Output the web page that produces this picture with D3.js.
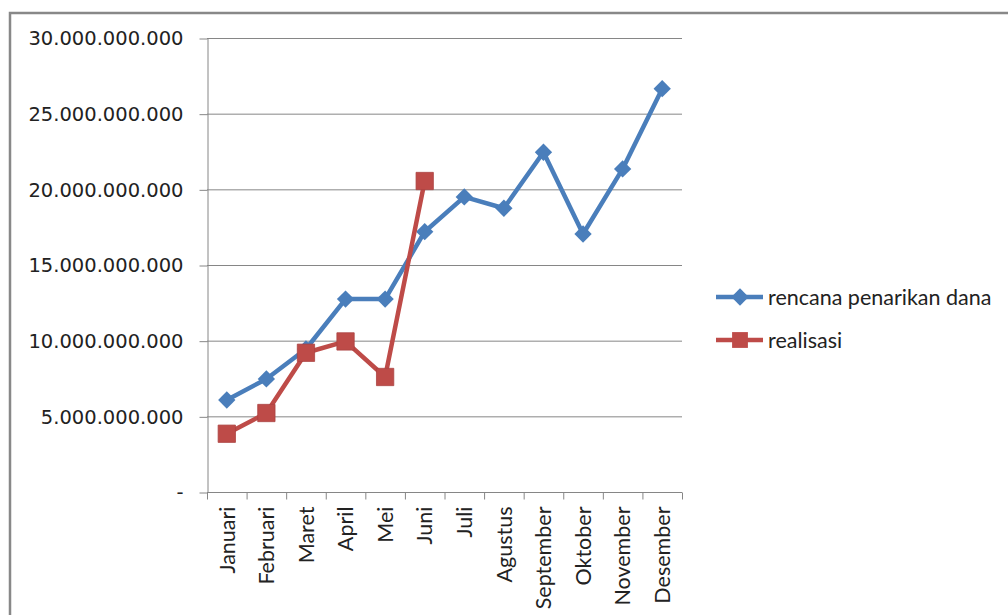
<!DOCTYPE html>
<html>
<head>
<meta charset="utf-8">
<script src="https://cdn.jsdelivr.net/npm/d3@7"></script>
<style>
  body { margin: 0; background: #fff; }
  svg { display: block; }
</style>
</head>
<body>
<svg id="chart" width="1008" height="615"></svg>
<script>
// Data
const months = ['Januari', 'Februari', 'Maret', 'April', 'Mei', 'Juni', 'Juli',
                'Agustus', 'September', 'Oktober', 'November', 'Desember'];
const rencana = [6.08e9, 7.47e9, 9.45e9, 12.75e9, 12.75e9, 17.2e9, 19.5e9,
                 18.75e9, 22.45e9, 17.05e9, 21.35e9, 26.65e9];
const realisasi = [3.85e9, 5.22e9, 9.2e9, 9.95e9, 7.6e9, 20.55e9];
const yTicks = [0, 5e9, 10e9, 15e9, 20e9, 25e9, 30e9];
const seriesNames = ['rencana penarikan dana', 'realisasi'];

const blue = '#4a7ebb';
const red = '#be4b48';
const axisGrey = '#868686';

const svg = d3.select('#chart');

// Outer chart frame (only top and left edges are visible in the picture)
svg.append('path')
    .attr('d', 'M10,615 L10,13 L1008,13')
    .attr('fill', 'none')
    .attr('stroke', '#888')
    .attr('stroke-width', 2.5);

const plot = { left: 207, right: 682, top: 38, bottom: 492 };

const x = d3.scaleBand()
    .domain(months)
    .range([plot.left, plot.right]);

const y = d3.scaleLinear()
    .domain([0, 30e9])
    .range([plot.bottom, plot.top]);

// Thousands with dots, zero as a dash
const fmt = v => v === 0 ? '-' : d3.format(',')(v).replace(/,/g, '.');

// Gridlines
svg.append('g')
    .selectAll('line')
    .data(yTicks.filter(d => d > 0))
    .join('line')
    .attr('x1', plot.left)
    .attr('x2', plot.right)
    .attr('y1', d => y(d) + 0.5)
    .attr('y2', d => y(d) + 0.5)
    .attr('stroke', axisGrey)
    .attr('stroke-width', 1);

// Y axis
const yAxis = svg.append('g')
    .attr('transform', `translate(${plot.left + 0.5},0)`)
    .call(d3.axisLeft(y).tickValues(yTicks).tickFormat(fmt).tickSize(8).tickSizeOuter(0));
yAxis.select('.domain').attr('stroke', axisGrey);
yAxis.selectAll('.tick line').attr('stroke', axisGrey).attr('transform', 'translate(0,0.5)');
yAxis.selectAll('.tick text')
    .attr('x', -24)
    .attr('dy', '0.35em')
    .attr('fill', '#222')
    .style('font-family', '"DejaVu Sans", sans-serif')
    .style('font-size', '19.5px');

// X axis with ticks at band boundaries
const xAxis = svg.append('g')
    .attr('transform', `translate(0,${plot.bottom + 0.5})`);
xAxis.append('line')
    .attr('x1', plot.left)
    .attr('x2', plot.right)
    .attr('stroke', axisGrey);
xAxis.selectAll('line.tk')
    .data(months.concat(['end']))
    .join('line')
    .attr('class', 'tk')
    .attr('x1', (d, i) => (i < months.length ? x(d) : plot.right) + 0.5)
    .attr('x2', (d, i) => (i < months.length ? x(d) : plot.right) + 0.5)
    .attr('y1', 0)
    .attr('y2', 7)
    .attr('stroke', axisGrey);
xAxis.selectAll('text')
    .data(months)
    .join('text')
    .attr('transform', d => `translate(${x(d) + x.bandwidth() / 2},14) rotate(-90)`)
    .attr('text-anchor', 'end')
    .attr('dy', '0.36em')
    .attr('fill', '#222')
    .style('font-family', 'Lato, sans-serif')
    .style('font-size', '21.5px')
    .text(d => d);

// Lines and markers
const line = d3.line()
    .x((d, i) => x(months[i]) + x.bandwidth() / 2)
    .y(d => y(d));

const diamond = d3.symbol().type(d3.symbolSquare).size(150);
const square = d3.symbol().type(d3.symbolSquare).size(300);

function drawSeries(values, color, shape) {
    const g = svg.append('g');
    g.append('path')
        .datum(values)
        .attr('d', line)
        .attr('fill', 'none')
        .attr('stroke', color)
        .attr('stroke-width', 4.5)
        .attr('stroke-linejoin', 'round');
    g.selectAll('path.m')
        .data(values)
        .join('path')
        .attr('class', 'm')
        .attr('d', shape === 'diamond' ? diamond() : square())
        .attr('transform', (d, i) =>
            `translate(${x(months[i]) + x.bandwidth() / 2},${y(d)})` + (shape === 'diamond' ? ' rotate(45)' : ''))
        .attr('fill', color)
        .attr('stroke', shape === 'diamond' ? 'none' : d3.color(color).darker(0.3))
        .attr('stroke-width', 0.8);
}

drawSeries(rencana, blue, 'diamond');
drawSeries(realisasi, red, 'square');

// Legend
const legend = svg.append('g');
const legendItems = [
    { name: seriesNames[0], color: blue, shape: 'diamond', y: 297 },
    { name: seriesNames[1], color: red, shape: 'square', y: 340 }
];
legendItems.forEach(it => {
    legend.append('line')
        .attr('x1', 716).attr('x2', 763)
        .attr('y1', it.y).attr('y2', it.y)
        .attr('stroke', it.color)
        .attr('stroke-width', 4.5);
    legend.append('path')
        .attr('d', it.shape === 'diamond' ? diamond() : d3.symbol().type(d3.symbolSquare).size(250)())
        .attr('transform', `translate(740,${it.y})` + (it.shape === 'diamond' ? ' rotate(45)' : ''))
        .attr('fill', it.color);
    legend.append('text')
        .attr('x', 768)
        .attr('y', it.y)
        .attr('dy', '0.35em')
        .attr('fill', '#222')
        .style('font-family', 'Lato, sans-serif')
        .style('font-size', '21.5px')
        .text(it.name);
});
</script>
</body>
</html>
